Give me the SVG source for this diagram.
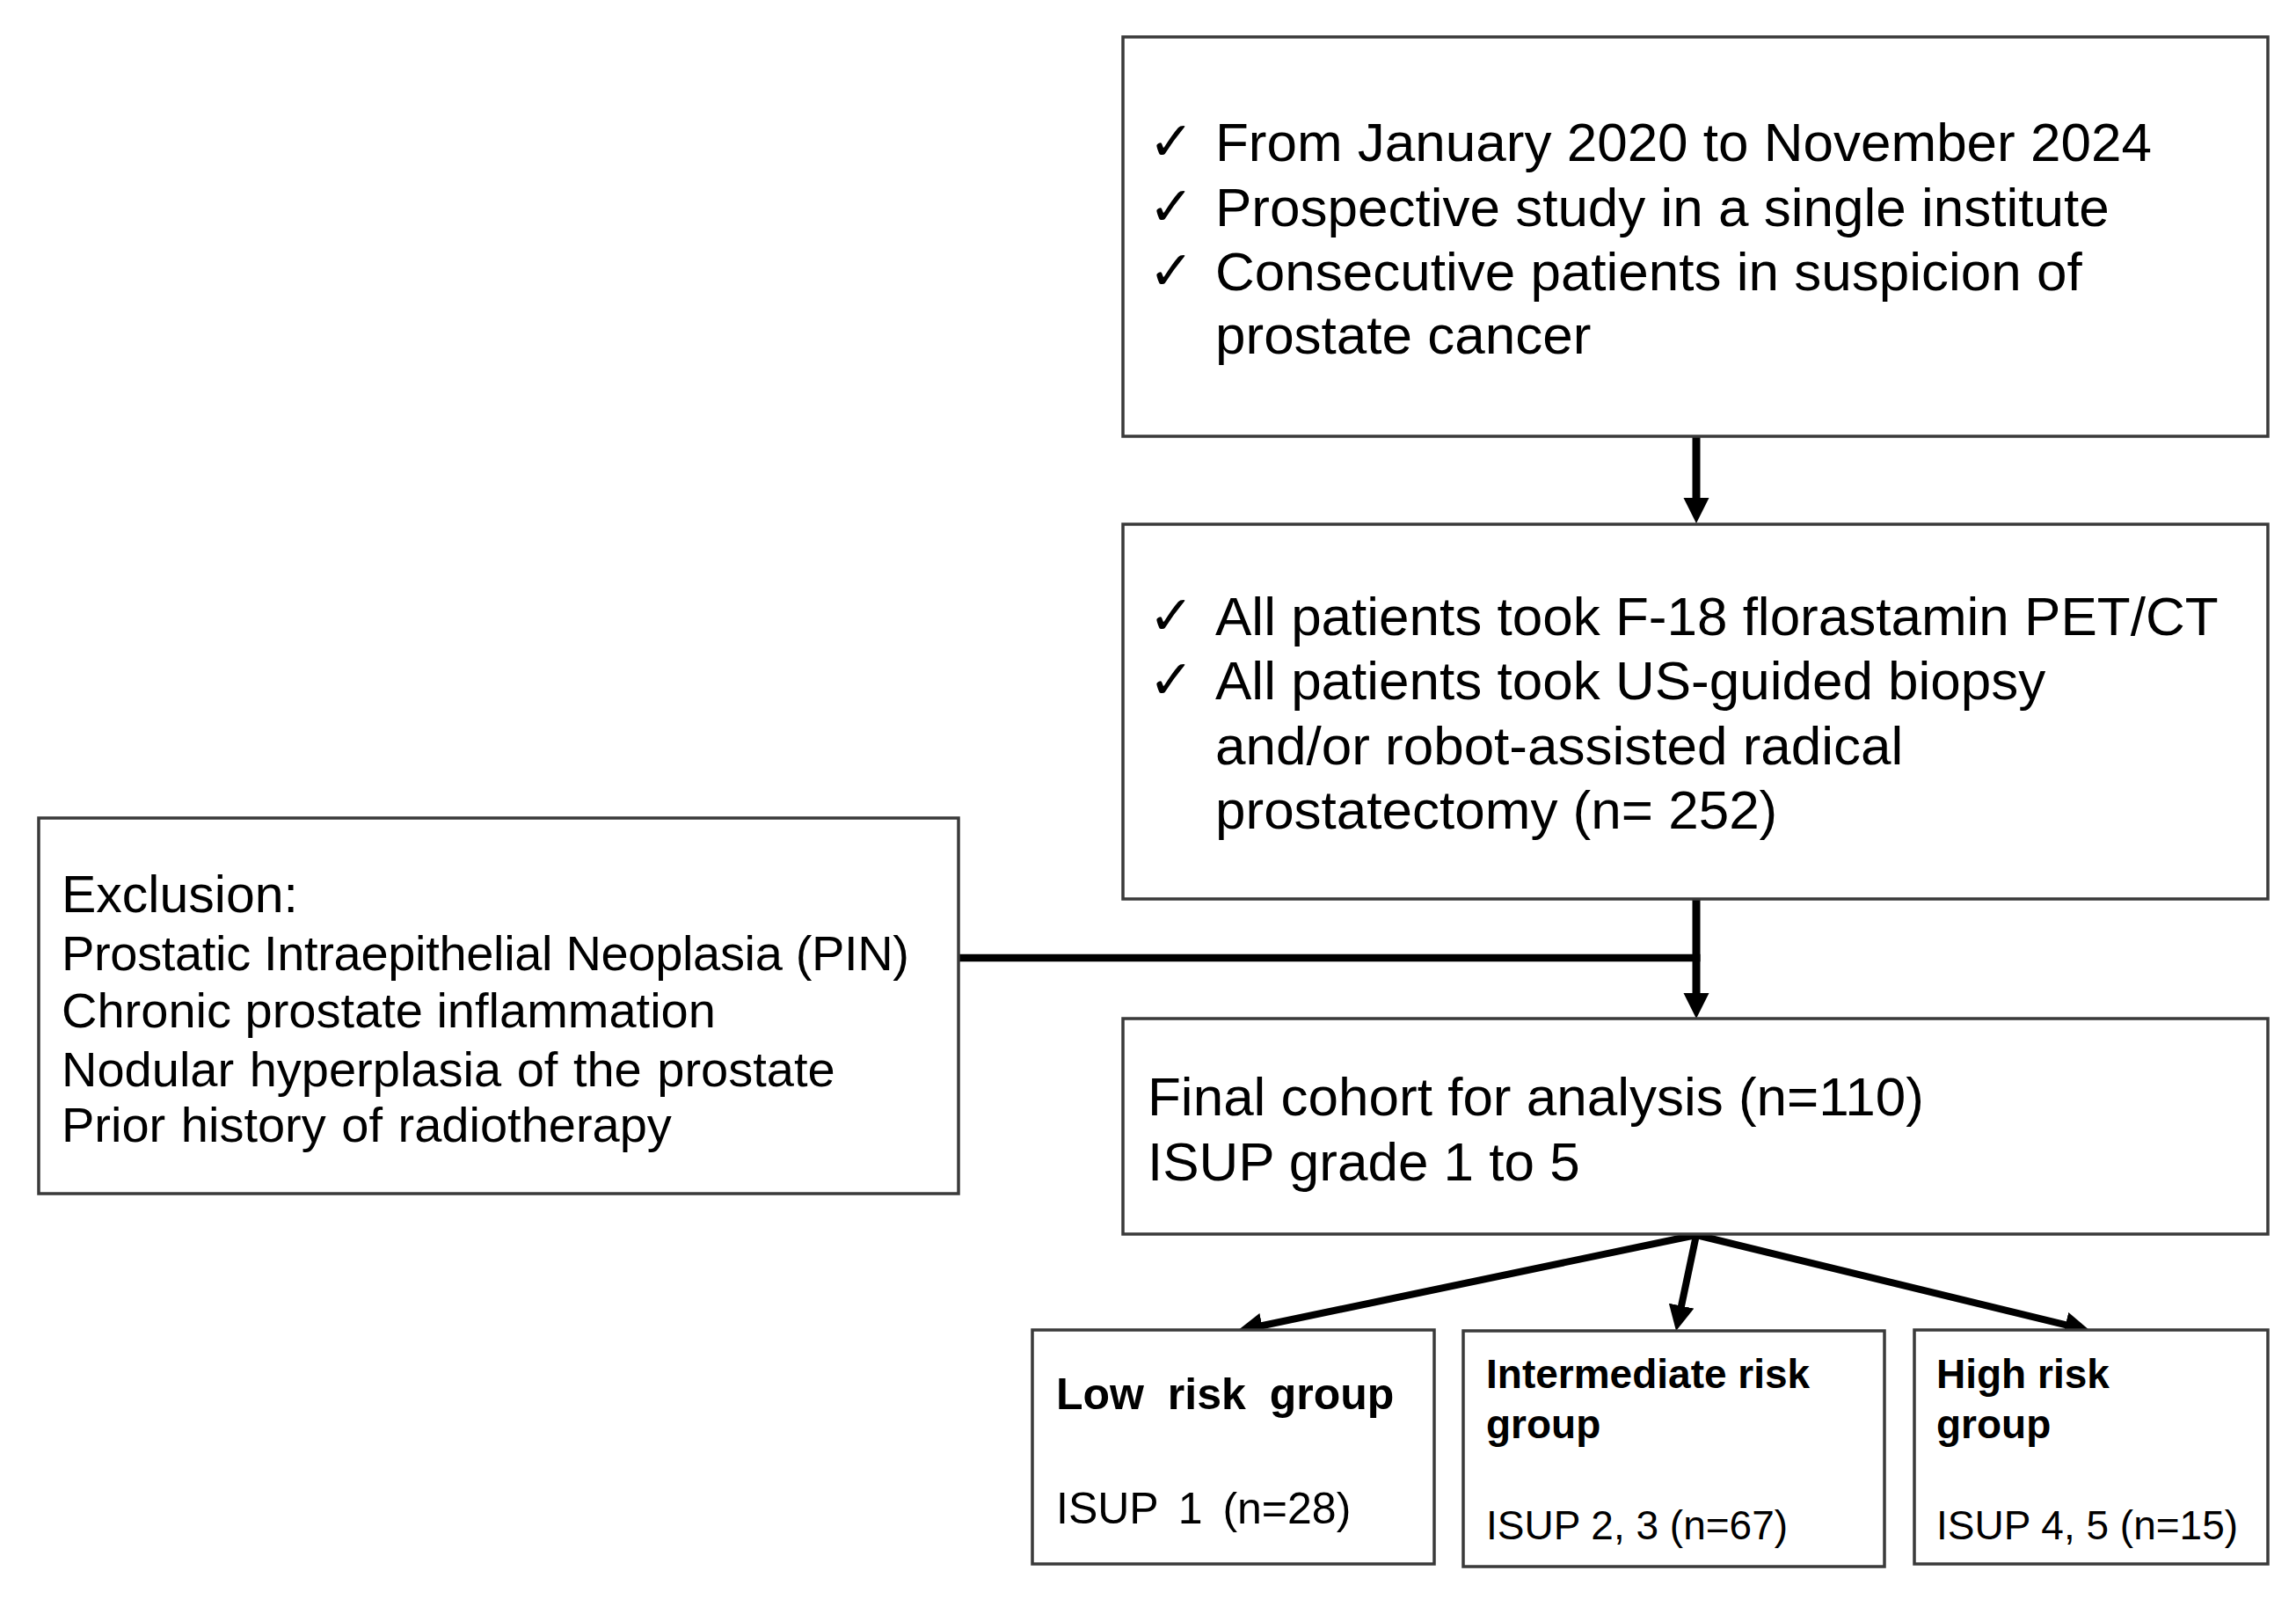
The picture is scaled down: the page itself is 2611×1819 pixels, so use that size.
<svg xmlns="http://www.w3.org/2000/svg" width="2611" height="1819" viewBox="0 0 2611 1819">
<style>
.box{fill:#ffffff;stroke:#3a3a3a;stroke-width:3.5}
.t{font-family:"Liberation Sans",Arial,sans-serif;fill:#000000}
.main{font-size:62px}
.ex{font-size:56px}
.sm{font-size:46px}
.b{font-weight:bold}
.chk{font-family:"DejaVu Sans",sans-serif;font-size:62px;fill:#000000}
.con{stroke:#000000;fill:none;stroke-linecap:butt}
</style>
<defs>
<marker id="ah" markerUnits="userSpaceOnUse" markerWidth="30" markerHeight="30" refX="2" refY="14.5" orient="auto">
<path d="M0,0 L29,14.5 L0,29 z" fill="#000000"/>
</marker>
</defs>
<rect width="2611" height="1819" fill="#ffffff"/>
<g id="connectors">
<line class="con" x1="1929" y1="496" x2="1929" y2="568" stroke-width="9" marker-end="url(#ah)"/>
<line class="con" x1="1090" y1="1089" x2="1933.5" y2="1089" stroke-width="8.5"/>
<line class="con" x1="1929" y1="1022" x2="1929" y2="1131" stroke-width="9" marker-end="url(#ah)"/>
<line class="con" x1="1929" y1="1404" x2="1433.4" y2="1507.5" stroke-width="8" marker-end="url(#ah)"/>
<line class="con" x1="1929" y1="1404" x2="1911.6" y2="1486.6" stroke-width="8" marker-end="url(#ah)"/>
<line class="con" x1="1929" y1="1404" x2="2350.8" y2="1506.6" stroke-width="8" marker-end="url(#ah)"/>
</g>
<g id="node-period">
<rect class="box" x="1277" y="42" width="1302" height="454"/>
<text class="chk" x="1306" y="182">✓</text>
<text class="chk" x="1306" y="256">✓</text>
<text class="chk" x="1306" y="329">✓</text>
<text class="t main" x="1382" y="183">From January 2020 to November 2024</text>
<text class="t main" x="1382" y="257">Prospective study in a single institute</text>
<text class="t main" x="1382" y="330">Consecutive patients in suspicion of</text>
<text class="t main" x="1382" y="402">prostate cancer</text>
</g>
<g id="node-patients">
<rect class="box" x="1277" y="596" width="1302" height="426"/>
<text class="chk" x="1306" y="721">✓</text>
<text class="chk" x="1306" y="794">✓</text>
<text class="t main" x="1382" y="722">All patients took F-18 florastamin PET/CT</text>
<text class="t main" x="1382" y="795">All patients took US-guided biopsy</text>
<text class="t main" x="1382" y="869">and/or robot-assisted radical</text>
<text class="t main" x="1382" y="942">prostatectomy (n= 252)</text>
</g>
<g id="node-exclusion">
<rect class="box" x="44" y="930" width="1046" height="427"/>
<text class="t" x="70" y="1037" font-size="59">Exclusion:</text>
<text class="t ex" x="70" y="1103" textLength="964">Prostatic Intraepithelial Neoplasia (PIN)</text>
<text class="t ex" x="70" y="1168">Chronic prostate inflammation</text>
<text class="t ex" x="70" y="1235" word-spacing="2">Nodular hyperplasia of the prostate</text>
<text class="t ex" x="70" y="1298" word-spacing="2">Prior history of radiotherapy</text>
</g>
<g id="node-final">
<rect class="box" x="1277" y="1158" width="1302" height="245"/>
<text class="t main" x="1305" y="1268">Final cohort for analysis (n=110)</text>
<text class="t main" x="1305" y="1342">ISUP grade 1 to 5</text>
</g>
<g id="node-low">
<rect class="box" x="1174" y="1512" width="457" height="266"/>
<text class="t b" x="1201" y="1602" font-size="50" word-spacing="13">Low risk group</text>
<text class="t" x="1201" y="1732" font-size="50" word-spacing="9">ISUP 1 (n=28)</text>
</g>
<g id="node-intermediate">
<rect class="box" x="1664" y="1513" width="479" height="268"/>
<text class="t sm b" x="1690" y="1578">Intermediate risk</text>
<text class="t sm b" x="1690" y="1635">group</text>
<text class="t sm" x="1690" y="1750">ISUP 2, 3 (n=67)</text>
</g>
<g id="node-high">
<rect class="box" x="2177" y="1512" width="402" height="266"/>
<text class="t sm b" x="2202" y="1578">High risk</text>
<text class="t sm b" x="2202" y="1635">group</text>
<text class="t sm" x="2202" y="1750">ISUP 4, 5 (n=15)</text>
</g>
</svg>
